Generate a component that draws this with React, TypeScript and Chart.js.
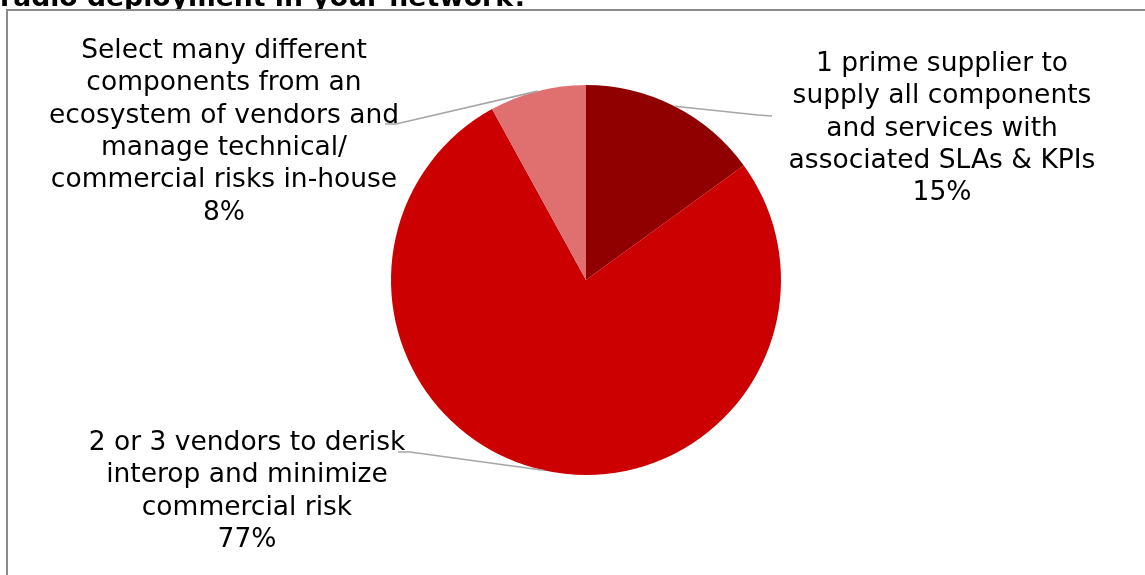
import React, { useEffect, useRef } from "react";
import { Chart, registerables } from "chart.js";

Chart.register(...registerables);

const TITLE = "radio deployment in your network?";
const CATEGORIES = [
  "1 prime supplier to supply all components and services with associated SLAs & KPIs",
  "2 or 3 vendors to derisk interop and minimize commercial risk",
  "Select many different components from an ecosystem of vendors and manage technical/ commercial risks in-house",
];
const LABEL_LINES = [
  ["1 prime supplier to", "supply all components", "and services with", "associated SLAs & KPIs"],
  ["2 or 3 vendors to derisk", "interop and minimize", "commercial risk"],
  ["Select many different", "components from an", "ecosystem of vendors and", "manage technical/", "commercial risks in-house"],
];
const VALUES = [15, 77, 8];
const COLORS = ["#900000", "#CC0000", "#E07070"];

// label placement (center x, first baseline y) and leader-line elbow/end
const LABEL_POS = [
  { cx: 942, y: 71, elbow: [758, 115], end: [772, 116] },
  { cx: 247, y: 450, elbow: [410, 452], end: [398, 452] },
  { cx: 224, y: 58, elbow: [396, 124], end: [385, 124] },
];

const FONT = '26.5px "DejaVu Sans", Verdana, sans-serif';
const LINE_H = 32.3;

const decorPlugin = {
  id: "decor",
  beforeDraw(chart: any) {
    const ctx = chart.ctx;
    ctx.save();
    ctx.fillStyle = "#ffffff";
    ctx.fillRect(0, 0, chart.width, chart.height);
    ctx.fillStyle = "#000000";
    ctx.font = 'bold 26.67px "DejaVu Sans", Verdana, sans-serif';
    ctx.textAlign = "left";
    ctx.textBaseline = "alphabetic";
    ctx.fillText(TITLE, 0, 6);
    // chart box (white) covers the lower part of the title
    ctx.fillStyle = "#ffffff";
    ctx.fillRect(0, 9, chart.width, chart.height);
    ctx.strokeStyle = "#8a8a8a";
    ctx.lineWidth = 2;
    ctx.beginPath();
    ctx.moveTo(7, chart.height + 5);
    ctx.lineTo(7, 10);
    ctx.lineTo(chart.width + 5, 10);
    ctx.stroke();
    ctx.restore();
  },
  afterDatasetsDraw(chart: any) {
    const ctx = chart.ctx;
    const meta = chart.getDatasetMeta(0);
    const total = VALUES.reduce((a, b) => a + b, 0);
    ctx.save();
    meta.data.forEach((arc: any, i: number) => {
      const p = arc.getProps(["x", "y", "startAngle", "endAngle", "outerRadius"], true);
      const mid = (p.startAngle + p.endAngle) / 2;
      const sx = p.x + Math.cos(mid) * p.outerRadius;
      const sy = p.y + Math.sin(mid) * p.outerRadius;
      const pos = LABEL_POS[i];
      ctx.strokeStyle = "#a6a6a6";
      ctx.lineWidth = 1.6;
      ctx.beginPath();
      ctx.moveTo(sx, sy);
      ctx.lineTo(pos.elbow[0], pos.elbow[1]);
      ctx.lineTo(pos.end[0], pos.end[1]);
      ctx.stroke();
      ctx.fillStyle = "#000000";
      ctx.font = FONT;
      ctx.textAlign = "center";
      ctx.textBaseline = "alphabetic";
      const lines = [...LABEL_LINES[i], Math.round((VALUES[i] / total) * 100) + "%"];
      lines.forEach((ln, k) => {
        ctx.fillText(ln, pos.cx, pos.y + k * LINE_H);
      });
    });
    ctx.restore();
  },
};

export default function App() {
  const ref = useRef<HTMLCanvasElement>(null);
  useEffect(() => {
    if (!ref.current) return;
    const chart = new Chart(ref.current, {
      type: "pie",
      data: {
        labels: CATEGORIES,
        datasets: [
          {
            data: VALUES,
            backgroundColor: COLORS,
            borderWidth: 0,
          },
        ],
      },
      options: {
        responsive: false,
        animation: false,
        layout: { padding: { top: 85, bottom: 100, left: 391, right: 364 } },
        plugins: {
          legend: { display: false },
          tooltip: { enabled: false },
          title: { display: false },
        },
      },
      plugins: [decorPlugin],
    });
    return () => chart.destroy();
  }, []);
  return (
    <div style={{ position: "fixed", left: 0, top: 0, width: 1145, height: 575, background: "#fff" }}>
      <canvas ref={ref} width={1145} height={575} style={{ width: 1145, height: 575, display: "block" }} />
    </div>
  );
}
